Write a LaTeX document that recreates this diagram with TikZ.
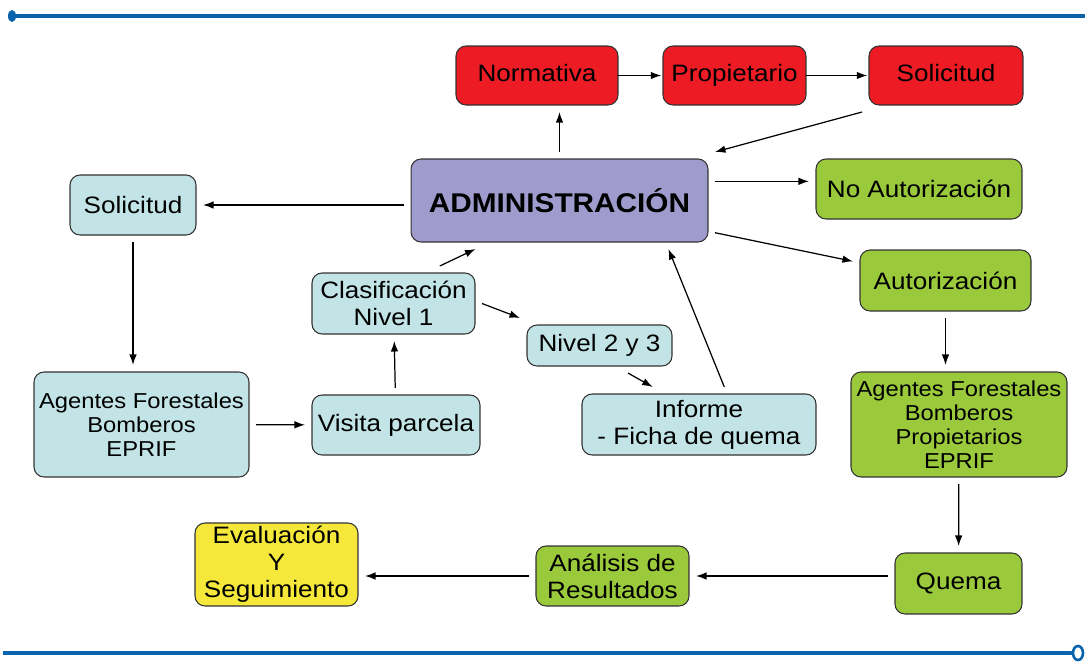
\documentclass[tikz,border=0pt]{standalone}
\usepackage{fontspec}
\setmainfont[FakeStretch=1.1]{Liberation Sans}
\usepackage{xcolor}
\usetikzlibrary{arrows.meta}
\definecolor{boxred}{HTML}{ED1C24}
\definecolor{boxlilac}{HTML}{9F9BCC}
\definecolor{boxcyan}{HTML}{C3E4E6}
\definecolor{boxgreen}{HTML}{9BC93C}
\definecolor{boxyellow}{HTML}{F5E83B}
\definecolor{rulecol}{HTML}{0A64AD}
\tikzset{
  box/.style={rectangle, draw=black!80, line width=0.6pt, rounded corners=0.2cm,
              align=center, inner sep=1pt, outer sep=4pt,
              font=\fontsize{13.5}{15.4}\selectfont},
  redbox/.style={box, fill=boxred, text height=1.75ex, text depth=0.45ex},
  adminbox/.style={box, fill=boxlilac, font=\fontsize{15.4}{17}\selectfont\bfseries},
  cyanbox/.style={box, fill=boxcyan},
  greenbox/.style={box, fill=boxgreen},
  yellowbox/.style={box, fill=boxyellow},
  small/.style={font=\fontsize{12.3}{13.7}\selectfont},
  arrow/.style={-{Latex[length=2.1mm, width=1.5mm]}, line width=0.7pt},
  bluerule/.style={draw=rulecol, line width=2pt},
}
\begin{document}
\begin{tikzpicture}[x=0.02cm, y=-0.02cm]
  \useasboundingbox (0,0) rectangle (1090,664);

  % page rules
  \draw[bluerule] (12,16) -- (1085,16);
  \fill[rulecol] (12,16) ellipse (4 and 6);
  \draw[bluerule] (3,653) -- (1072,653);
  \draw[draw=rulecol, line width=1.5pt, fill=white] (1078,653) ellipse (5 and 7);

  % top row
  \node[redbox, minimum width=3.24cm, minimum height=1.18cm] (norm) at (537,75.5) {Normativa};
  \node[redbox, minimum width=2.86cm, minimum height=1.18cm] (prop) at (734.5,75.5) {Propietario};
  \node[redbox, minimum width=3.08cm, minimum height=1.18cm] (sol2) at (946,75.5) {Solicitud};

  \node[adminbox, minimum width=5.94cm, minimum height=1.66cm] (adm) at (559.5,200.5) {ADMINISTRACIÓN};
  \node[cyanbox, minimum width=2.52cm, minimum height=1.2cm] (sol1) at (133,205) {Solicitud};
  \node[greenbox, minimum width=4.12cm, minimum height=1.2cm] (noaut) at (919,189) {No Autorización};
  \node[greenbox, minimum width=3.42cm, minimum height=1.22cm] (aut) at (945.5,280.5) {Autorización};

  % middle
  \node[cyanbox, minimum width=3.26cm, minimum height=1.22cm] (clas) at (393.5,303.5) {Clasificación\\Nivel 1};
  \node[cyanbox, minimum width=2.9cm, minimum height=0.82cm] (niv) at (599.5,345.5) {Nivel 2 y 3};
  \node[cyanbox, small, minimum width=4.3cm, minimum height=2.1cm] (ag1) at (141.5,424.5) {Agentes Forestales\\Bomberos\\EPRIF};
  \node[cyanbox, minimum width=3.36cm, minimum height=1.2cm] (vis) at (396,425) {Visita parcela};
  \node[cyanbox, minimum width=4.68cm, minimum height=1.22cm] (inf) at (699,424.5) {Informe\\- Ficha de quema};
  \node[greenbox, small, minimum width=4.32cm, minimum height=2.1cm] (ag2) at (959,424.5) {Agentes Forestales\\Bomberos\\Propietarios\\EPRIF};

  % bottom row
  \node[yellowbox, minimum width=3.26cm, minimum height=1.66cm] (eval) at (276.5,564.5) {Evaluación\\Y\\Seguimiento};
  \node[greenbox, minimum width=3.06cm, minimum height=1.2cm] (ana) at (612.5,576) {Análisis de\\Resultados};
  \node[greenbox, minimum width=2.54cm, minimum height=1.22cm] (quema) at (958.5,583.5) {Quema};

  \draw[arrow, shorten <=-4pt, shorten >=-3pt] (norm) -- (prop);
  \draw[arrow, shorten <=-4pt, shorten >=-3pt] (prop) -- (sol2);
  \draw[arrow] (adm.north) -- (adm.north |- norm.south);
  \draw[arrow] (sol2.south west) -- (adm.north east);
  \draw[arrow] (sol1.east -| adm.west) -- (sol1.east);
  \draw[arrow] (adm.east |- noaut.176) -- (noaut.176);
  \draw[arrow] (adm) -- (aut);
  \draw[arrow] (sol1.south) -- (sol1.south |- ag1.north);
  \draw[arrow] (ag1) -- (vis);
  \draw[arrow] (vis) -- (clas);
  \draw[arrow] (clas.39) -- (adm.210);
  \draw[arrow] (clas.east) -- (niv.north west);
  \draw[arrow] (niv.-44) -- (inf.141);
  \draw[arrow] (inf.56) -- (adm.-24);
  \draw[arrow] (aut.south) -- (aut.south |- ag2.north);
  \draw[arrow] (ag2) -- (quema);
  \draw[arrow] (quema.west |- ana.east) -- (ana.east);
  \draw[arrow] (ana.west) -- (ana.west -| eval.east);
\end{tikzpicture}
\end{document}
